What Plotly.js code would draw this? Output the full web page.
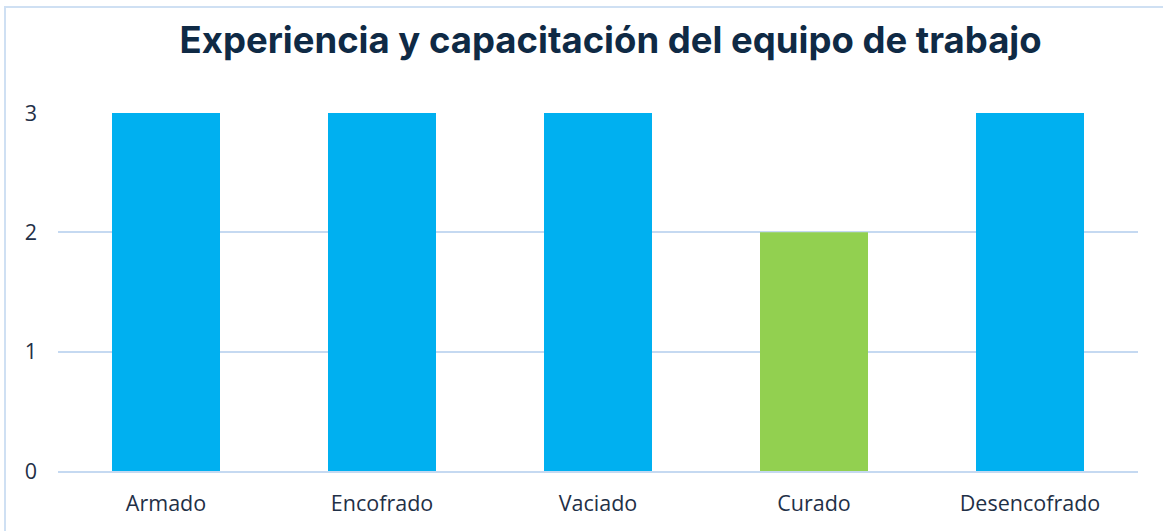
<!DOCTYPE html>
<html><head><meta charset="utf-8">
<script src="https://cdn.plot.ly/plotly-3.0.1.min.js"></script>
<style>
html,body{margin:0;padding:0;background:#fff;overflow:hidden;}
#frame{position:absolute;left:4px;top:6px;width:1180px;height:560px;border:2px solid #cfe0f3;box-sizing:border-box;}
#chart{position:absolute;left:0;top:0;width:1163px;height:531px;}
</style></head>
<body>
<div id="frame"></div>
<div id="chart"></div>
<script>
const categories = ["Armado","Encofrado","Vaciado","Curado","Desencofrado"];
const values = [3,3,3,2,3];
const barColors = ["#00b0f0","#00b0f0","#00b0f0","#92d050","#00b0f0"];
const yTicks = [0,1,2,3];

Plotly.newPlot("chart",[{
  type:"bar", x:categories, y:values,
  marker:{color:barColors}, hoverinfo:"none"
}],{
  width:1163, height:531,
  paper_bgcolor:"rgba(0,0,0,0)", plot_bgcolor:"rgba(0,0,0,0)",
  margin:{l:58,r:25,t:113,b:60},
  bargap:0.5,
  showlegend:false,
  title:{text:"<b>Experiencia y capacitación del equipo de trabajo</b>",
    font:{family:"Inter, Open Sans, sans-serif",size:36.5,color:"#0f2a45"},
    x:0.525,xanchor:"center",xref:"container",y:0.925,yanchor:"middle",yref:"container"},
  xaxis:{tickfont:{family:"Open Sans, sans-serif",size:21.5,color:"#1f3047"},
    showgrid:false, showline:true, linecolor:"#c5d9f1", linewidth:2, ticks:"", ticklabelstandoff:12},
  yaxis:{range:[0,3], tickvals:yTicks, tickfont:{family:"Open Sans, sans-serif",size:21.5,color:"#1f3047"},
    showgrid:true, gridcolor:"#c5d9f1", gridwidth:2, zeroline:false, showline:false, ticks:"", ticklabelstandoff:20}
},{staticPlot:true});
</script>
</body></html>
